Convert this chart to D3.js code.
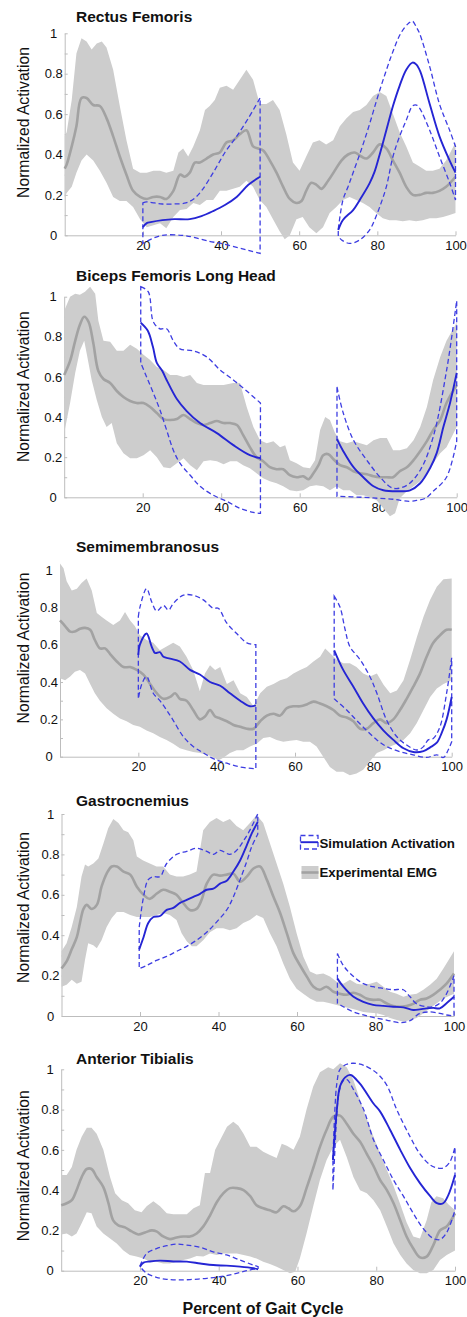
<!DOCTYPE html>
<html>
<head>
<meta charset="utf-8">
<script src="https://cdn.jsdelivr.net/npm/d3@7"></script>
<style>
  body { margin: 0; background: #fff; }
  svg { display: block; font-family: "Liberation Sans", Arial, sans-serif; }
</style>
</head>
<body>
<div class="draw"></div>
<script>
const width = 467
const height = 1317

const muscles = ["Rectus Femoris", "Biceps Femoris Long Head", "Semimembranosus", "Gastrocnemius", "Anterior Tibialis"]
const xTicks = [20, 40, 60, 80, 100]
const yTicks = [0, 0.1, 0.2, 0.3, 0.4, 0.5, 0.6, 0.7, 0.8, 0.9, 1]
const yTickLabels = ["0", "", "0.2", "", "0.4", "", "0.6", "", "0.8", "", "1"]
const legendLabels = ["Simulation Activation", "Experimental EMG"]
const yTitle = "Normalized Activation"
const xTitle = "Percent of Gait Cycle"

// ---- Rectus Femoris
const rfMean = [[0,.33],[.5,.35],[1.8,.44],[3,.54],[4.3,.68],[5.6,.68],[7.3,.645],[9,.64],[10.7,.58],[12.4,.49],[14.1,.39],[15.8,.30],[17.5,.22],[19.3,.19],[21,.18],[22.7,.19],[24.4,.19],[26,.18],[27.8,.22],[29.5,.30],[30.7,.29],[32,.31],[33.3,.36],[34.6,.36],[36.3,.38],[38,.40],[39.7,.41],[41.4,.46],[43.1,.47],[44.8,.50],[46.5,.52],[48.2,.44],[49.5,.43],[50.8,.42],[52.5,.37],[54.2,.31],[55.9,.24],[57.6,.18],[59.3,.16],[60.6,.17],[61.8,.22],[63.1,.26],[64.4,.25],[65.7,.23],[67.4,.27],[69.1,.32],[70.8,.37],[72.5,.40],[74.2,.41],[75.9,.39],[77.2,.38],[78.9,.41],[80.6,.45],[82.3,.43],[84,.37],[85.7,.31],[87.4,.24],[89.1,.20],[90.8,.20],[92.5,.21],[94.2,.21],[95.9,.22],[97.6,.24],[100,.29]]
const rfUp = [[0,.49],[.5,.51],[1.8,.67],[3,.90],[4.3,.975],[5.6,.96],[6.9,.92],[8.2,.95],[9.5,.96],[10.7,.93],[12.4,.82],[14.1,.64],[15.8,.47],[17.5,.33],[19.3,.31],[21,.31],[22.7,.32],[24.4,.32],[26,.31],[27.8,.32],[29.1,.41],[30.3,.43],[31.6,.39],[32.9,.44],[34.6,.52],[35.9,.62],[37.1,.64],[38.4,.67],[39.7,.73],[41.4,.74],[43.1,.72],[44.8,.77],[46.5,.82],[48.2,.77],[49.9,.65],[51.6,.65],[53.3,.67],[55,.62],[56.7,.50],[58.4,.36],[60.1,.32],[61.8,.39],[63.5,.46],[65.2,.47],[66.9,.45],[68.7,.47],[70.4,.54],[72.1,.58],[73.8,.61],[75.5,.62],[77.2,.645],[78.9,.69],[80.6,.71],[82.3,.69],[84,.60],[85.7,.51],[87.4,.44],[89.1,.36],[90.8,.34],[92.5,.32],[94.2,.32],[95.9,.33],[97.6,.37],[100,.46]]
const rfLo = [[0,.19],[.5,.21],[1.8,.24],[3,.31],[4.3,.37],[5.6,.40],[7.3,.37],[9,.32],[10.7,.26],[12.4,.19],[14.1,.17],[15.8,.17],[17.5,.14],[19.3,.08],[21,.04],[22.7,.05],[24.4,.06],[26,.035],[27.8,.09],[29.5,.125],[31.2,.13],[32.9,.16],[34.6,.15],[36.3,.175],[38,.175],[39.7,.22],[41.4,.22],[43.1,.23],[44.8,.24],[46.5,.27],[48.2,.24],[49.9,.175],[51.6,.14],[53.3,.08],[55,.02],[56.3,-.02],[57.6,0],[59.3,.08],[60.9,.09],[62.6,.04],[64.4,.01],[66.1,.04],[67.8,.11],[69.5,.14],[71.2,.175],[72.9,.19],[74.6,.175],[76.3,.16],[78,.14],[79.7,.11],[81.4,.085],[83.1,.075],[84.8,.075],[86.5,.07],[88.2,.075],[89.9,.07],[91.6,.075],[93.4,.085],[95.1,.085],[96.8,.09],[98.5,.10],[100,.11]]
const rfSim1Mean = [[20,.04],[21,.06],[22,.065],[25,.075],[28,.08],[32,.08],[35,.095],[38,.12],[41,.15],[44,.19],[47,.25],[50,.29]]
const rfSim1Up = [[20,.16],[21,.165],[23,.16],[25,.155],[28,.155],[31,.16],[33,.18],[35,.22],[38,.31],[41,.41],[44,.49],[47,.58],[50,.68]]
const rfSim1Lo = [[20,-.04],[22,-.02],[25,0],[30,0],[33,-.01],[37,-.03],[40,-.04],[44,-.06],[47,-.075],[50,-.09]]
const rfSim2Mean = [[70,.026],[71.2,.076],[73.8,.125],[75.5,.175],[78,.257],[79.3,.315],[80.6,.40],[82.3,.52],[84,.64],[85.7,.74],[87.4,.82],[89,.855],[90,.845],[91,.81],[93.4,.65],[95.9,.49],[98.5,.37],[100,.31]]
const rfSim2Up = [[70,.03],[71.2,.175],[72.5,.24],[73.8,.31],[76,.43],[78,.55],[80,.68],[82,.80],[84,.91],[86,1.0],[88,1.05],[89,1.06],[90,1.03],[90.8,1.0],[93.4,.835],[95.9,.65],[98.5,.52],[100,.44]]
const rfSim2Lo = [[70,-.005],[71,-.025],[72.9,-.04],[75.5,-.023],[78,.026],[79.3,.076],[80.6,.14],[82.3,.24],[84,.39],[85.7,.49],[87.4,.57],[89,.64],[90,.645],[90.8,.63],[93.4,.52],[95.9,.39],[98.5,.26],[100,.175]]

// ---- Biceps Femoris Long Head
const bfMean = [[0,.61],[1.5,.68],[2.8,.78],[4,.86],[5.1,.90],[6.2,.875],[7.4,.77],[8.7,.63],[10,.59],[11.7,.57],[13.4,.53],[15.1,.50],[16.8,.48],[18.5,.47],[20.2,.47],[21.9,.45],[23.6,.42],[25.3,.39],[27,.385],[28.7,.39],[30.4,.41],[32.1,.39],[33.8,.37],[35.5,.36],[37.2,.37],[38.9,.38],[40.6,.37],[42.3,.37],[44,.36],[45.6,.31],[47.3,.25],[49,.20],[50.7,.18],[52.4,.15],[54.1,.14],[55.8,.14],[57.5,.11],[59.2,.10],[60.9,.105],[62.2,.09],[63.5,.12],[64.8,.16],[66,.21],[67.3,.215],[68.6,.19],[70.3,.16],[72,.15],[73.7,.13],[75.4,.12],[77.1,.115],[78.8,.105],[80.5,.10],[82.2,.10],[83.8,.10],[85.5,.13],[87.3,.15],[89,.185],[90.7,.23],[92.4,.28],[94,.335],[95.8,.385],[97.4,.47],[100,.56]]
const bfUp = [[0,.93],[1.5,1.0],[2.8,1.015],[4,1.01],[5.3,1.025],[6.6,1.05],[7.9,1.015],[8.7,.88],[10,.78],[11.7,.775],[13.4,.73],[15.1,.73],[16.8,.76],[18.5,.74],[20.2,.71],[21.9,.685],[23.6,.65],[25.3,.635],[27,.61],[28.7,.61],[30.4,.60],[32.1,.61],[33.8,.57],[35.5,.56],[38,.56],[40.6,.56],[43.1,.57],[44.8,.57],[46.5,.45],[48.2,.35],[49.9,.285],[51.6,.27],[53.3,.28],[55,.25],[56.3,.26],[57.5,.185],[59.2,.17],[60.9,.15],[62.6,.145],[63.9,.185],[65.2,.335],[66.5,.40],[67.7,.385],[69,.32],[70.3,.28],[72,.27],[73.7,.28],[75.4,.27],[77.1,.26],[78.8,.285],[80.5,.295],[82.2,.295],[83.8,.235],[85.5,.235],[87.3,.245],[89,.285],[90.7,.35],[92.4,.45],[94,.585],[95.8,.70],[97.4,.78],[100,.87]]
const bfLo = [[0,.32],[1.5,.47],[2.8,.62],[4,.73],[5.1,.78],[5.9,.70],[7,.585],[8.3,.485],[9.6,.40],[10.8,.35],[12.1,.37],[13.4,.27],[15.1,.22],[16.8,.195],[18.5,.195],[20.2,.21],[21.9,.235],[23.6,.20],[25.3,.15],[27,.145],[28.7,.17],[30.4,.195],[32.1,.16],[33.8,.135],[35.5,.18],[37.2,.185],[38.9,.18],[40.6,.165],[42.3,.18],[44,.18],[45.6,.16],[47.3,.145],[49,.12],[50.7,.095],[52.4,.08],[54.1,.07],[55.8,.055],[57.5,.035],[59.2,.03],[60.9,.035],[62.6,.055],[64.2,.06],[66,.055],[67.7,.035],[69.4,.055],[71.1,.035],[72.8,.035],[74.5,.01],[76.2,.01],[77.9,0],[79.6,-.015],[81.3,-.055],[83,-.095],[84.3,-.08],[85.5,-.005],[87.3,.03],[89,.055],[90.7,.08],[92.4,.12],[94,.17],[95.8,.22],[97.4,.25],[100,.35]]
const bfSim1Mean = [[19.5,.87],[21.3,.83],[22.6,.75],[23.6,.67],[25,.63],[26.1,.585],[28.7,.49],[31.2,.43],[34.6,.37],[38.9,.32],[43.1,.26],[47.3,.21],[50,.195]]
const bfSim1Up = [[19.5,1.05],[21.4,1.025],[22.7,.875],[24.4,.84],[26.1,.84],[27.8,.78],[29.5,.74],[32.9,.73],[36.3,.70],[39.7,.635],[43.1,.585],[46.5,.53],[50,.47]]
const bfSim1Lo = [[19.5,.67],[21,.60],[22.7,.52],[24.4,.435],[26.1,.335],[27.8,.235],[29.5,.17],[32.1,.11],[34.6,.055],[38,.01],[41.4,-.02],[44.8,-.055],[48.2,-.075],[50,-.08]]
const bfSim2Mean = [[69.5,.29],[71.1,.23],[73.7,.15],[76.2,.10],[78.8,.055],[81.3,.035],[84.7,.03],[88.1,.035],[90.7,.07],[93.2,.145],[94.9,.22],[96.6,.35],[98.3,.47],[100,.62]]
const bfSim2Up = [[69.5,.55],[71.1,.42],[73.7,.285],[77.1,.185],[80.5,.10],[83.8,.045],[87.3,.06],[90.7,.135],[94,.30],[97.4,.63],[100,.98]]
const bfSim2Lo = [[69.5,.005],[76,0],[80,-.005],[84,-.01],[88,-.02],[90,-.015],[92,-.005],[94,.03],[97.4,.10],[100,.28]]

// ---- Semimembranosus
const smMean = [[0,.73],[1.3,.70],[2.6,.67],[3.8,.67],[5.1,.685],[6.4,.69],[7.7,.68],[8.9,.625],[10.2,.58],[11.5,.58],[12.8,.55],[14.5,.51],[16.2,.48],[17.9,.48],[19.6,.465],[21.3,.44],[23,.39],[24.7,.34],[26.4,.31],[28.1,.32],[29.4,.34],[30.6,.31],[32.3,.30],[34,.25],[35.7,.20],[37,.215],[38.3,.25],[39.6,.215],[40.9,.205],[42.6,.19],[44.3,.17],[46,.16],[47.7,.15],[49.4,.15],[51.1,.19],[52.8,.22],[54.5,.23],[56.2,.22],[57.9,.26],[59.6,.27],[61.3,.27],[63,.28],[64.7,.295],[66.4,.285],[68.1,.27],[69.8,.25],[71.5,.22],[73.2,.21],[74.9,.19],[76.6,.15],[78.3,.15],[80,.18],[81.7,.20],[83.4,.18],[85.1,.20],[86.8,.25],[88.5,.31],[90.2,.375],[91.9,.445],[93.6,.535],[95.3,.61],[97,.65],[98.7,.68],[100,.68]]
const smUp = [[0,1.035],[.9,1.01],[1.7,.94],[3,.89],[4.3,.90],[5.5,.93],[6.8,.955],[8.1,.89],[9.4,.77],[10.6,.75],[11.9,.73],[13.6,.705],[15.3,.73],[16.6,.775],[17.9,.73],[19.1,.70],[20.4,.65],[22.1,.625],[23.8,.61],[25.5,.57],[27.2,.59],[28.9,.61],[30.6,.59],[32.3,.535],[34,.465],[35.7,.35],[37,.445],[38.3,.49],[39.6,.465],[40.9,.48],[42.6,.39],[44.3,.41],[46,.34],[47.7,.32],[49.4,.27],[51.1,.34],[52.8,.375],[54.5,.39],[56.2,.41],[57.9,.42],[59.6,.445],[61.3,.465],[63,.48],[64.7,.51],[66.4,.535],[67.7,.58],[68.9,.555],[70.6,.52],[72.3,.50],[74,.50],[75.7,.48],[77.4,.445],[79.1,.43],[80.9,.445],[82.6,.385],[84.3,.34],[86,.355],[87.7,.41],[89.4,.52],[91.1,.64],[92.8,.75],[94.5,.84],[96.2,.91],[97.9,.95],[100,.955]]
const smLo = [[0,.42],[1.3,.41],[2.6,.43],[3.8,.455],[5.1,.465],[6.4,.445],[7.7,.39],[8.9,.34],[10.2,.30],[11.9,.26],[13.6,.23],[15.3,.205],[17,.19],[18.7,.17],[20.4,.16],[22.1,.14],[23.8,.125],[25.5,.105],[27.2,.09],[28.9,.07],[30.6,.045],[32.3,.035],[34,.025],[35.7,.02],[37.4,.01],[39.1,0],[40.4,-.02],[41.7,-.005],[43.4,.02],[45.1,.035],[46.8,.035],[48.5,.055],[50.2,.07],[51.9,.10],[53.6,.105],[55.3,.09],[57,.08],[58.7,.085],[60.4,.09],[62.1,.08],[63.8,.08],[65.5,.055],[67.2,0],[68.9,-.055],[70.6,-.08],[72.3,-.08],[74,-.10],[75.7,-.09],[77.4,-.07],[79.1,-.025],[80.9,.02],[82.6,.035],[84.3,.055],[86,.07],[87.7,.09],[89.4,.125],[91.1,.18],[92.8,.25],[94.5,.32],[96.2,.365],[97.9,.39],[100,.41]]
const smSim1Mean = [[20,.545],[20.4,.60],[22.1,.66],[23.4,.59],[24.3,.555],[25.5,.56],[26.4,.535],[28.1,.525],[30.6,.51],[33.2,.465],[35.7,.44],[38.3,.40],[40.9,.38],[43.4,.34],[46,.30],[48.5,.27],[50,.275]]
const smSim1Up = [[20,.75],[20.4,.80],[22.1,.90],[23.4,.83],[24.7,.78],[26.4,.81],[27.7,.785],[28.9,.82],[31.5,.865],[34,.865],[36.6,.84],[39.1,.795],[40.4,.795],[42.6,.715],[45.1,.66],[47.7,.61],[50,.60]]
const smSim1Lo = [[20,.31],[20.9,.39],[22.1,.43],[23.8,.34],[25.5,.30],[27.2,.25],[28.9,.195],[31.5,.107],[34,.055],[36.6,.02],[39.1,-.01],[42.6,-.035],[46,-.055],[50,-.065]]
const smSim2Mean = [[70,.57],[72.3,.465],[74.9,.375],[77.4,.285],[80,.205],[82.6,.14],[85.1,.09],[87.7,.045],[90.2,.025],[92.8,.03],[94.5,.05],[96.2,.075],[97.5,.13],[98.7,.2],[100,.32]]
const smSim2Up = [[70,.86],[71.5,.80],[72.8,.68],[74,.59],[76.6,.52],[79.1,.43],[80.9,.34],[83.4,.195],[86,.107],[88.5,.0625],[91.1,.036],[92.8,.054],[94,.09],[95.3,.098],[97,.16],[98.7,.34],[100,.53]]
const smSim2Lo = [[70,.31],[73.2,.25],[75.7,.195],[78.3,.14],[80.9,.09],[83.4,.054],[86.8,.027],[90.2,.01],[93.6,-.004],[96.2,.01],[97.9,-.004],[99.1,.036],[100,.08]]

// ---- Gastrocnemius
const gsMean = [[0,.235],[1.3,.27],[2.6,.33],[3.9,.39],[4.7,.46],[5.6,.53],[6.4,.55],[7.7,.53],[9,.55],[10.2,.64],[11.5,.705],[12.8,.74],[14.1,.74],[15.8,.715],[17.5,.70],[19.2,.64],[20.9,.60],[22.5,.58],[24.2,.605],[25.9,.625],[27.6,.615],[29.3,.60],[31,.56],[32.7,.525],[34.4,.53],[35.7,.575],[37,.655],[38.7,.70],[40.4,.695],[42.1,.70],[43.8,.705],[45.5,.665],[47.2,.69],[48.9,.73],[50.6,.74],[52.3,.675],[54,.59],[55.7,.51],[57.4,.41],[59.1,.31],[60.8,.25],[62.5,.195],[64.2,.145],[65.8,.13],[67.5,.145],[69.3,.12],[70.9,.11],[72.6,.105],[74.4,.115],[76,.105],[77.7,.087],[79.4,.08],[81.1,.08],[82.8,.063],[84.5,.05],[86.2,.046],[87.9,.05],[89.6,.06],[91.3,.08],[93,.087],[94.7,.105],[96.4,.13],[98.1,.16],[100,.21]]
const gsUp = [[0,.32],[1.3,.36],[2.6,.44],[3.9,.54],[5.1,.69],[6,.75],[6.8,.74],[8.1,.755],[9.4,.78],[10.7,.855],[11.9,.93],[13.2,.975],[14.5,.955],[15.8,.92],[17,.91],[18.3,.87],[19.2,.79],[20.8,.77],[22.5,.755],[24.2,.74],[25.9,.74],[27.6,.70],[29.3,.69],[31,.69],[32.7,.70],[34.4,.715],[36.1,.92],[37.8,.96],[39.5,.98],[41.2,.96],[42.9,.975],[44.6,.94],[46.3,.92],[48,.955],[49.7,.995],[51.4,.955],[53.1,.855],[54.8,.755],[56.5,.655],[58.2,.54],[59.9,.41],[61.6,.295],[63.3,.22],[65,.205],[66.7,.21],[68.4,.195],[70.1,.17],[71.8,.16],[73.5,.18],[75.2,.16],[76.9,.155],[78.6,.16],[80.3,.17],[82,.145],[83.7,.12],[85.4,.11],[87.1,.095],[88.8,.105],[90.5,.11],[92.2,.13],[93.9,.155],[95.6,.185],[97.3,.235],[100,.32]]
const gsLo = [[0,.145],[1.3,.155],[2.6,.18],[3.9,.16],[5.1,.17],[6,.28],[6.8,.36],[8.1,.35],[9,.335],[10.2,.375],[11.5,.44],[12.8,.485],[14.1,.515],[15.8,.515],[17.5,.50],[19.2,.49],[20.9,.49],[22.5,.49],[24.2,.50],[25.9,.51],[27.6,.50],[29.3,.475],[30.6,.41],[31.9,.37],[33.2,.345],[34.4,.345],[36.1,.375],[37.8,.415],[39.5,.435],[41.2,.435],[42.9,.425],[44.6,.435],[46.3,.46],[48,.475],[49.7,.50],[51.4,.485],[53.1,.41],[54.8,.345],[56.5,.26],[58.2,.185],[59.9,.135],[61.6,.11],[63.3,.087],[65,.07],[66.7,.07],[68.4,.063],[70.1,.055],[71.8,.046],[73.5,.038],[75.2,.03],[76.9,.02],[78.6,.016],[80.3,.013],[82,.005],[83.7,-.01],[85.4,-.02],[87.1,-.028],[88.8,-.02],[90.5,-.01],[92.2,.013],[93.9,.038],[95.6,.063],[97.3,.087],[100,.11]]
const gsSim1Mean = [[19.8,.33],[20.9,.39],[22.1,.46],[23.4,.49],[25.1,.495],[26.8,.525],[28.5,.535],[30.2,.56],[31.9,.575],[33.6,.59],[35.3,.605],[37,.625],[38.7,.63],[40.4,.655],[42.1,.67],[43.8,.715],[45.5,.77],[47.2,.845],[48.5,.905],[50,.96]]
const gsSim1Up = [[19.8,.44],[20.9,.59],[22.1,.675],[23.4,.69],[25.1,.69],[26.8,.755],[29.3,.80],[31.9,.815],[34.4,.83],[37,.815],[38.7,.80],[40.4,.82],[42.9,.80],[44.6,.82],[46.3,.865],[48,.92],[50,1.0]]
const gsSim1Lo = [[19.8,.235],[21.7,.25],[24.2,.275],[26.8,.295],[29.3,.32],[31.9,.345],[34.4,.375],[37,.415],[39.5,.465],[42.1,.525],[43.8,.59],[45.5,.675],[47.2,.765],[48.5,.84],[50,.90]]
const gsSim2Mean = [[70.3,.185],[71.8,.145],[74.4,.095],[76.9,.07],[79.4,.055],[82,.05],[84.5,.046],[87.1,.043],[89.6,.03],[91.3,.033],[93,.038],[94.7,.04],[96.4,.038],[98.1,.063],[100,.095]]
const gsSim2Up = [[70.3,.31],[71.8,.25],[74.4,.195],[76.9,.16],[79.4,.145],[82,.137],[84.5,.13],[87.1,.13],[88.8,.095],[90.5,.06],[93,.046],[94.7,.046],[96.4,.063],[98.1,.11],[100,.20]]
const gsSim2Lo = [[70.3,.063],[71.8,.046],[74.4,.02],[76.9,.005],[79.4,-.007],[82.8,-.02],[86.2,-.033],[88.8,-.023],[91.3,.013],[93.9,.02],[96.4,.013],[98.1,.005],[100,0]]

// ---- Anterior Tibialis
const taMean = [[0,.325],[1.4,.335],[2.7,.35],[3.9,.40],[5.2,.465],[6.5,.505],[7.7,.505],[9,.465],[10.7,.415],[12,.335],[13.2,.25],[14.5,.225],[16.2,.215],[17.9,.195],[19.6,.18],[21.3,.19],[23,.20],[24.2,.195],[25.9,.17],[27.6,.157],[29.3,.165],[31,.17],[32.7,.17],[34.4,.185],[36.1,.22],[37.8,.275],[39.5,.34],[41.2,.385],[42.9,.41],[44.6,.41],[46.3,.40],[48,.37],[49.6,.325],[51.3,.31],[53,.30],[54.7,.29],[56.4,.32],[57.7,.31],[59,.295],[60.6,.32],[62.3,.41],[64,.51],[65.7,.615],[67.4,.70],[69.1,.765],[70.8,.77],[72.5,.73],[74.2,.68],[75.9,.64],[77.6,.58],[79.3,.52],[81,.45],[82.7,.40],[84.4,.335],[86.1,.25],[87.7,.17],[89.4,.11],[91.1,.066],[92.8,.07],[94.5,.127],[96.2,.20],[97.9,.22],[100,.285]]
const taUp = [[0,.475],[1.4,.475],[2.7,.515],[3.9,.60],[5.2,.665],[6.5,.71],[7.7,.71],[9,.68],[10.7,.60],[12.4,.465],[13.7,.385],[15.4,.35],[17,.335],[18.7,.30],[20.4,.29],[21.7,.32],[23.4,.345],[25.1,.32],[26.8,.285],[28.5,.28],[30.2,.28],[31.9,.28],[33.6,.31],[35.2,.325],[36.5,.485],[37.8,.485],[39.1,.60],[40.4,.65],[42.1,.715],[43.7,.74],[45,.72],[46.3,.68],[48,.615],[49.6,.615],[51.3,.59],[53,.575],[54.7,.56],[56,.63],[57.3,.62],[59,.60],[60.6,.665],[62.3,.80],[64,.915],[65.7,.985],[67.8,1.01],[69.1,1.0],[70.8,1.03],[72.5,1.01],[74.2,.947],[76.7,.80],[79.3,.666],[81,.58],[82.7,.50],[84.4,.42],[86.1,.33],[87.7,.24],[89.4,.17],[91.1,.16],[92.8,.25],[94,.34],[95.3,.37],[97,.36],[98.3,.33],[100,.30]]
const taLo = [[0,.18],[1.4,.185],[2.7,.17],[3.9,.185],[5.2,.235],[6.5,.29],[7.7,.285],[9,.22],[10.7,.185],[12.4,.16],[14.1,.135],[15.8,.10],[17.4,.078],[19.1,.07],[20.9,.06],[22.5,.045],[24.2,.045],[25.9,.036],[27.6,.036],[29.3,.045],[31,.053],[32.7,.06],[34.4,.073],[36.1,.07],[37.8,.086],[39.5,.078],[41.2,.086],[42.9,.086],[44.6,.086],[46.3,.078],[48,.07],[49.6,.06],[51.3,.045],[53,.033],[54.7,.02],[56.4,.003],[58.1,-.013],[59.4,-.005],[60.6,.06],[62.3,.185],[64,.32],[65.7,.45],[67.4,.55],[69.1,.615],[70.8,.65],[72.5,.565],[74.2,.465],[75.9,.40],[77.6,.385],[79.3,.35],[81,.30],[82.7,.22],[84.4,.135],[86.1,.078],[87.7,.036],[89.4,.003],[91.1,-.013],[92.8,-.013],[94.5,.003],[96.2,.053],[97.9,.078],[100,.10]]
const taSim1Mean = [[20,.02],[20.9,.04],[22.5,.046],[25.1,.05],[28.5,.046],[31.9,.045],[35.3,.036],[38.6,.028],[42,.025],[45.4,.02],[48.8,.012],[50,.007]]
const taSim1Up = [[20,.023],[21.7,.086],[24.2,.11],[26.8,.124],[29.3,.132],[31.9,.127],[35.3,.116],[38.6,.094],[42,.078],[45.4,.053],[48.8,.028],[50,.02]]
const taSim1Lo = [[20,.02],[21.7,-.013],[24.2,-.033],[26.8,-.043],[30.2,-.046],[33.6,-.043],[37,-.038],[40.3,-.03],[43.7,-.017],[47.1,0],[50,.012]]
const taSim2Mean = [[69,.55],[70,.80],[70.8,.915],[72.1,.96],[73.5,.972],[75.8,.93],[79.3,.83],[81,.79],[83.5,.70],[86.1,.60],[88.6,.51],[91.1,.435],[93.7,.37],[95.4,.335],[97,.335],[98.3,.375],[100,.475]]
const taSim2Up = [[69,.55],[69.5,.8],[70,.93],[70.8,1.0],[72.5,1.025],[74.2,1.03],[76.8,1.02],[80.2,.98],[82.7,.92],[85.2,.80],[88.6,.665],[91.1,.58],[93.7,.525],[95.4,.51],[97,.51],[98.7,.54],[100,.615]]
const taSim2Lo = [[69,.40],[69.5,.6],[70,.78],[70.5,.88],[71.5,.94],[72.5,.95],[74.2,.90],[76.8,.80],[79.3,.65],[81.8,.55],[84.4,.45],[86.9,.37],[89.4,.285],[91.9,.21],[94.5,.16],[96.2,.155],[97.9,.19],[100,.30]]

// pixel frame of each panel (x=0..100, y=0..1)
const layout = [
  {left: 64.7, right: 455.5, top: 33.3, bottom: 235.3, titleY: 22, labelY: 122.5},
  {left: 64.2, right: 456.7, top: 296.7, bottom: 497.3, titleY: 280.5, labelY: 386.7},
  {left: 60, right: 451.7, top: 570, bottom: 756.7, titleY: 551.5, labelY: 648},
  {left: 61.5, right: 454, top: 814, bottom: 1016, titleY: 806, labelY: 907.5},
  {left: 61.2, right: 455, top: 1069.3, bottom: 1270.7, titleY: 1064, labelY: 1165.8}
]

const panels = [
  {emg: [rfMean, rfUp, rfLo], sims: [[rfSim1Mean, rfSim1Up, rfSim1Lo], [rfSim2Mean, rfSim2Up, rfSim2Lo]]},
  {emg: [bfMean, bfUp, bfLo], sims: [[bfSim1Mean, bfSim1Up, bfSim1Lo], [bfSim2Mean, bfSim2Up, bfSim2Lo]]},
  {emg: [smMean, smUp, smLo], sims: [[smSim1Mean, smSim1Up, smSim1Lo], [smSim2Mean, smSim2Up, smSim2Lo]]},
  {emg: [gsMean, gsUp, gsLo], sims: [[gsSim1Mean, gsSim1Up, gsSim1Lo], [gsSim2Mean, gsSim2Up, gsSim2Lo]]},
  {emg: [taMean, taUp, taLo], sims: [[taSim1Mean, taSim1Up, taSim1Lo], [taSim2Mean, taSim2Up, taSim2Lo]]}
]

const axisColor = "#bdbdbd"
const bandColor = "#cdcdcd"
const emgColor = "#a2a2a2"
const simColor = "#2525d4"
const simDashColor = "#3d3de2"

let svg = d3.select("div.draw")
    .append("svg")
    .attr("width", width)
    .attr("height", height)

svg.append("rect").attr("width", width).attr("height", height).attr("fill", "#fff")

function drawPanel(p, l, title){
  let x = d3.scaleLinear().domain([0, 100]).range([l.left, l.right])
  let y = d3.scaleLinear().domain([0, 1]).range([l.bottom, l.top])
  let g = svg.append("g")

  // axes first, data covers them
  let xAxis = g.append("g")
      .attr("transform", "translate(0," + y(0) + ")")
      .call(d3.axisBottom(x).tickValues(xTicks).tickSizeInner(-4).tickSizeOuter(0).tickPadding(5.5))
  let yAxis = g.append("g")
      .attr("transform", "translate(" + x(0) + ",0)")
      .call(d3.axisLeft(y).tickValues(yTicks).tickSizeInner(-3).tickSizeOuter(0)
        .tickFormat((d, i) => yTickLabels[i]))
  for (let a of [xAxis, yAxis]) {
    a.select(".domain").attr("stroke", axisColor)
    a.selectAll(".tick line").attr("stroke", axisColor)
    a.selectAll("text").attr("fill", "#111").style("font-size", "13px")
      .style("font-family", "'Liberation Sans', Arial, sans-serif")
  }
  yAxis.selectAll("text").attr("text-anchor", "middle").attr("x", -11)

  // EMG band and mean
  let [mean, up, lo] = p.emg
  let flat = d3.line().x(d => x(d[0])).y(d => y(d[1]))
  let smooth = d3.line().x(d => x(d[0])).y(d => y(d[1])).curve(d3.curveCatmullRom)
  g.append("path")
    .attr("d", flat(up.concat(lo.slice().reverse())) + "Z")
    .attr("fill", bandColor)
  g.append("path")
    .attr("d", smooth(mean))
    .attr("fill", "none")
    .attr("stroke", emgColor)
    .attr("stroke-width", 2.6)

  // simulation windows
  p.sims.forEach(([sMean, sUp, sLo]) => {
    let d = smooth(sUp) + smooth(sLo.slice().reverse()).replace("M", "L") + "Z"
    g.append("path")
      .attr("d", d)
      .attr("fill", "none")
      .attr("stroke", simDashColor)
      .attr("stroke-width", 1.3)
      .attr("stroke-dasharray", "5,3")
    g.append("path")
      .attr("d", smooth(sMean))
      .attr("fill", "none")
      .attr("stroke", simColor)
      .attr("stroke-width", 1.9)
  })

  g.append("text")
    .attr("x", 76)
    .attr("y", l.titleY)
    .style("font-size", "15.5px")
    .style("font-weight", "bold")
    .attr("fill", "#111")
    .text(title)

  g.append("text")
    .attr("transform", "translate(29," + l.labelY + ") rotate(-90)")
    .attr("text-anchor", "middle")
    .style("font-size", "15.7px")
    .attr("fill", "#111")
    .text(yTitle)
}

panels.forEach((p, i) => drawPanel(p, layout[i], muscles[i]))

// legend (Gastrocnemius panel)
let leg = svg.append("g")
leg.append("rect")
  .attr("x", 300.5).attr("y", 835.5).attr("width", 17.5).attr("height", 13.5)
  .attr("fill", "none").attr("stroke", simDashColor).attr("stroke-width", 1.3)
  .attr("stroke-dasharray", "5,3")
leg.append("line")
  .attr("x1", 300.5).attr("x2", 318).attr("y1", 842.2).attr("y2", 842.2)
  .attr("stroke", simColor).attr("stroke-width", 1.9)
leg.append("rect")
  .attr("x", 301.5).attr("y", 866).attr("width", 17).attr("height", 13)
  .attr("fill", bandColor)
leg.append("line")
  .attr("x1", 301.5).attr("x2", 318.5).attr("y1", 872.5).attr("y2", 872.5)
  .attr("stroke", emgColor).attr("stroke-width", 2.6)
leg.selectAll("text.leg")
  .data(legendLabels)
  .enter()
  .append("text")
  .attr("class", "leg")
  .attr("x", 319.5)
  .attr("y", (d, i) => 847.8 + i * 29.4)
  .style("font-size", "13.3px")
  .style("font-weight", "bold")
  .attr("fill", "#111")
  .text(d => d)

svg.append("text")
  .attr("x", 263)
  .attr("y", 1314)
  .attr("text-anchor", "middle")
  .style("font-size", "16px")
  .style("font-weight", "bold")
  .attr("fill", "#111")
  .text(xTitle)
</script>
</body>
</html>
